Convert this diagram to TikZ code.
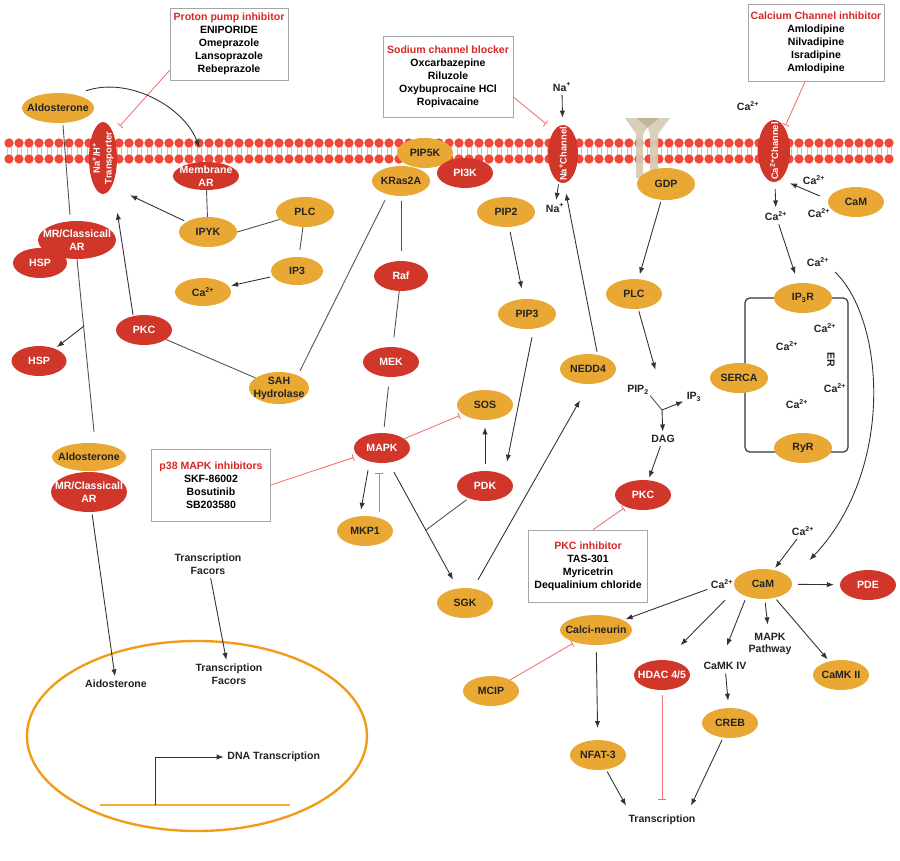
\documentclass[tikz,border=0pt]{standalone}
\usepackage{fontspec}
\setmainfont{Liberation Sans}
\usetikzlibrary{arrows.meta, shapes.geometric}
\pgfdeclarelayer{bg}
\pgfsetlayers{bg,main}

\definecolor{orc}{RGB}{233,168,52}
\definecolor{rdc}{RGB}{208,54,42}
\definecolor{hdc}{RGB}{214,40,38}
\definecolor{mbc}{RGB}{242,72,58}
\definecolor{nuc}{RGB}{242,155,22}
\definecolor{dnac}{RGB}{247,172,62}
\definecolor{inc}{RGB}{238,110,110}
\definecolor{lnc}{RGB}{50,50,50}
\definecolor{tc}{RGB}{35,35,35}
\definecolor{rcp}{RGB}{214,203,178}
\definecolor{rcpd}{RGB}{186,172,142}

\begin{document}
\begin{tikzpicture}[
        x=0.03cm, y=-0.03cm,
        lbl/.style={font=\fontsize{9}{11}\selectfont\bfseries, align=center, inner sep=1pt},
        otxt/.style={lbl, text=tc},
        rtxt/.style={lbl, text=white},
        txt/.style={lbl, text=tc},
        oval/.style={ellipse, fill=orc, minimum width=1.68cm, minimum height=0.9cm,
            inner sep=0pt, label={[otxt]center:#1}},
        rval/.style={ellipse, fill=rdc, minimum width=1.68cm, minimum height=0.9cm,
            inner sep=0pt, label={[rtxt]center:#1}},
        vval/.style={ellipse, fill=rdc, inner sep=0pt,
            label={[rtxt, rotate=90, font=\fontsize{8}{10}\selectfont\bfseries]center:#1}},
        ibox/.style={draw=gray!70, fill=white, line width=0.6pt, lbl, text=black},
        act/.style={-{Latex[length=6pt, width=4.5pt]}, draw=lnc, line width=0.75pt,
            shorten >=2pt, shorten <=2pt},
        lnk/.style={draw=lnc!85, line width=0.75pt},
        inh/.style={-{Bar[width=6pt]}, draw=inc, line width=0.7pt, shorten >=2pt}
    ]

    \fill[white] (0,0) rectangle (900,860);

    % lipid bilayer
    \foreach \i in {0,...,88} {
        \draw[gray!45, line width=0.4pt] (7+10*\i,147) -- (7+10*\i,155)
            (11+10*\i,147) -- (11+10*\i,155);
        \fill[mbc] (9+10*\i,143) circle (0.14cm);
        \fill[mbc] (9+10*\i,159) circle (0.14cm);
    }

    % receptor
    \fill[rcp, opacity=0.9] (625,118) -- (636,118) -- (647,128) -- (643,134)
        -- (643,178) -- (636,178) -- (636,134) -- cycle;
    \fill[rcp, opacity=0.9] (670,118) -- (659,118) -- (648,128) -- (650,134)
        -- (650,178) -- (658,178) -- (658,134) -- cycle;
    \fill[rcpd, opacity=0.9] (636,118) -- (659,118) -- (647.5,128) -- cycle;

    % ER
    \draw[lnc, line width=1pt, rounded corners=4pt] (745,298) rectangle (848,452);

    % nucleus
    \draw[nuc, line width=2pt] (197,736) ellipse [x radius=5.1cm, y radius=2.85cm];
    \draw[dnac, line width=1.2pt] (100,805) -- (290,805);
    \coordinate (prom) at (155,805);

    % inhibitor boxes
    \node[ibox, minimum width=3.54cm, minimum height=2.16cm] (ppi) at (229,44)
        {{\color{hdc}Proton pump inhibitor}\\ENIPORIDE\\Omeprazole\\Lansoprazole\\Rebeprazole};
    \node[ibox, minimum width=3.9cm, minimum height=2.43cm] (scb) at (448,77)
        {{\color{hdc}Sodium channel blocker}\\Oxcarbazepine\\Riluzole\\Oxybuprocaine HCl\\Ropivacaine};
    \node[ibox, minimum width=4.08cm, minimum height=2.31cm] (cci) at (816,43)
        {{\color{hdc}Calcium Channel inhibitor}\\Amlodipine\\Nilvadipine\\Isradipine\\Amlodipine};
    \node[ibox, minimum width=3.57cm, minimum height=2.16cm] (p38) at (211,485)
        {{\color{hdc}p38 MAPK inhibitors}\\SKF-86002\\Bosutinib\\SB203580};
    \node[ibox, minimum width=3.57cm, minimum height=2.16cm] (pkci) at (588,566)
        {{\color{hdc}PKC inhibitor}\\TAS-301\\Myricetrin\\Dequalinium chloride};

    % left column
    \node[oval=Aldosterone, minimum width=2.16cm] (ald1) at (58,108) {};
    \node[vval={Na\textsuperscript{+}/H\textsuperscript{+}\\Transporter},
          minimum width=0.84cm, minimum height=2.16cm] (tr) at (103,158) {};
    \node[rval={Membrane\\AR}, minimum width=1.98cm, minimum height=0.84cm] (mar) at (206,176) {};
    \node[oval=IPYK, minimum width=1.74cm] (ipyk) at (208,232) {};
    \node[oval=PLC, minimum width=1.74cm] (plc1) at (305,212) {};
    \node[oval=IP3, minimum width=1.56cm, minimum height=0.84cm] (ip3a) at (297,271) {};
    \node[oval={Ca\textsuperscript{2+}}, minimum height=0.84cm] (ca1) at (203,292) {};
    \node[rval={MR/Classicall\\AR}, minimum width=2.34cm, minimum height=1.14cm] (mr1) at (77,240) {};
    \node[rval=HSP, minimum width=1.62cm] (hsp1) at (40,263) {};
    \node[rval=HSP, minimum width=1.65cm] (hsp2) at (39,361) {};
    \node[rval=PKC] (pkc1) at (144,330) {};
    \node[oval={SAH\\Hydrolase}, minimum width=1.8cm, minimum height=0.96cm] (sah) at (279,388) {};
    \node[oval=Aldosterone, minimum width=2.22cm, minimum height=0.84cm] (ald2) at (89,457) {};
    \node[rval={MR/Classicall\\AR}, minimum width=2.28cm, minimum height=1.2cm] (mr2) at (89,492) {};
    \node[txt] (tf1) at (208,564) {Transcription\\Facors};
    \node[txt] (tf2) at (229,674) {Transcription\\Facors};
    \node[txt] (aid) at (116,684) {Aidosterone};
    \node[txt, anchor=west] (dnat) at (226,757) {DNA Transcription};

    % middle column
    \node[oval=PIP5K] (pip5k) at (425,153) {};
    \node[oval=KRas2A, minimum width=1.74cm] (kras) at (401,181) {};
    \node[rval=PI3K] (pi3k) at (465,173) {};
    \node[rval=Raf, minimum width=1.62cm] (raf) at (401,276) {};
    \node[rval=MEK] (mek) at (391,362) {};
    \node[rval=MAPK] (mapk) at (382,448) {};
    \node[oval=MKP1] (mkp1) at (365,531) {};
    \node[oval=PIP2, minimum width=1.74cm] (pip2) at (506,212) {};
    \node[oval=PIP3, minimum width=1.74cm] (pip3) at (527,314) {};
    \node[oval=SOS] (sos) at (485,405) {};
    \node[rval=PDK] (pdk) at (485,486) {};
    \node[oval=SGK] (sgk) at (465,603) {};
    \node[oval=NEDD4] (nedd) at (588,369) {};
    \node[vval={Na\textsuperscript{+}Channel}, minimum width=0.9cm, minimum height=1.74cm] (nach) at (563,154) {};
    \node[txt] (nat) at (562,87) {Na\textsuperscript{+}};
    \node[txt] (nab) at (555,208) {Na\textsuperscript{+}};
    \node[oval=MCIP] (mcip) at (491,691) {};
    \node[oval=Calci-neurin, minimum width=2.16cm] (caln) at (596,630) {};
    \node[oval=NFAT-3] (nfat) at (598,755) {};

    % right column
    \node[oval=GDP, minimum width=1.74cm, minimum height=0.96cm] (gdp) at (666,184) {};
    \node[oval=PLC] (plc2) at (634,294) {};
    \node[txt] (pip2t) at (638,390) {PIP\textsubscript{2}};
    \node[txt] (ip3t) at (694,397) {IP\textsubscript{3}};
    \coordinate (jn) at (662,410);
    \node[txt] (dag) at (663,439) {DAG};
    \node[rval=PKC] (pkc2) at (643,495) {};
    \node[vval={Ca\textsuperscript{2+}Channel}, minimum width=0.96cm, minimum height=1.86cm] (cach) at (774,151) {};
    \node[txt] (cat1) at (748,106) {Ca\textsuperscript{2+}};
    \node[txt] (cab) at (776,216) {Ca\textsuperscript{2+}};
    \node[txt] (cau) at (814,180) {Ca\textsuperscript{2+}};
    \node[txt] (cal) at (819,213) {Ca\textsuperscript{2+}};
    \node[oval=CaM] (cam1) at (856,202) {};
    \node[txt] (cac) at (818,262) {Ca\textsuperscript{2+}};
    \node[oval={IP\textsubscript{3}R}, minimum width=1.74cm] (ip3r) at (803,298) {};
    \node[oval=SERCA, minimum width=1.74cm] (serca) at (739,378) {};
    \node[oval=RyR, minimum width=1.74cm] (ryr) at (803,448) {};
    \node[txt] (cer1) at (787,346) {Ca\textsuperscript{2+}};
    \node[txt] (cer2) at (825,328) {Ca\textsuperscript{2+}};
    \node[txt] (cer3) at (835,388) {Ca\textsuperscript{2+}};
    \node[txt] (cer4) at (797,404) {Ca\textsuperscript{2+}};
    \node[txt, rotate=-90] (er) at (831,360) {ER};
    \node[txt] (cad) at (803,531) {Ca\textsuperscript{2+}};
    \node[oval=CaM, minimum width=1.74cm] (cam2) at (763,584) {};
    \node[txt] (cae) at (722,584) {Ca\textsuperscript{2+}};
    \node[rval=PDE] (pde) at (868,585) {};
    \node[rval={HDAC 4/5}] (hdac) at (662,675) {};
    \node[txt] (camk4) at (725,666) {CaMK IV};
    \node[txt] (mapkp) at (770,644) {MAPK\\Pathway};
    \node[oval={CaMK II}] (camk2) at (841,675) {};
    \node[oval=CREB] (creb) at (730,723) {};
    \node[txt] (trans) at (662,820) {Transcription};

    % transporter flux
    \begin{pgfonlayer}{bg}
    \draw[act, shorten <=0pt] ([shift={(-6,-6)}]tr.north) -- ([shift={(-4,14)}]tr.south);
    \draw[act, shorten <=0pt] ([shift={(7,12)}]tr.south) -- ([shift={(9,-8)}]tr.north);
    \end{pgfonlayer}

    % left connectors
    \draw[inh, shorten >=0pt] ([shift={(0,-10)}]ppi.south west) -- ([shift={(17,4)}]tr.north);
    \draw[act, shorten <=0pt] ([shift={(28,-2)}]ald1.north) .. controls (130,76) and (185,108)
        .. ([shift={(-6,-12)}]mar.north);
    \draw[lnk] ([shift={(5,2)}]ald1.south) -- ([shift={(-7,-6)}]mr1.north);
    \draw[lnk] (mr1.south) -- ([shift={(5,-11)}]ald2.north);
    \coordinate (hspb) at (84,326);
    \draw[act, shorten <=0pt] (hspb) -- (hsp2);
    \draw[lnk] (mar) -- (ipyk);
    \draw[act] (ipyk) -- ([shift={(25,0)}]tr.south);
    \draw[lnk] (ipyk.east) -- (plc1);
    \draw[lnk, shorten >=6pt] (plc1) -- (ip3a);
    \draw[act] (ip3a) -- (ca1);
    \draw[act, shorten <=0pt] ([shift={(-11,0)}]pkc1.north) -- ([shift={(14,16)}]tr.south);
    \draw[lnk] (pkc1) -- (sah);
    \draw[lnk] ([shift={(21,-1)}]sah.north) -- ([shift={(-16,4)}]kras.south);
    \draw[act] (mr2) -- (aid);
    \draw[act] (tf1) -- (tf2);
    \draw[act, shorten <=0pt] (prom) |- (dnat.west);
    \draw[inh, shorten >=4pt] (p38.east) -- (mapk);

    % middle connectors
    \draw[lnk, shorten <=4pt, shorten >=8pt] (kras) -- (raf);
    \draw[lnk, shorten >=8pt] (raf) -- (mek);
    \draw[lnk, shorten <=8pt, shorten >=5pt] (mek) -- (mapk);
    \draw[inh, shorten >=3pt] (mapk) -- (sos);
    \draw[act, shorten <=6pt, shorten >=6pt] (pdk) -- (sos);
    \draw[act, shorten <=4pt, shorten >=9pt] (pip2) -- (pip3);
    \draw[act, shorten <=0pt, shorten >=0pt] ([shift={(5,8)}]pip3.south) -- ([shift={(22,-9)}]pdk.north);
    \draw[act, shorten <=0pt, shorten >=0pt] ([shift={(-14,7)}]mapk.south) -- ([shift={(-4,-6)}]mkp1.north);
    \draw[inh, shorten >=0pt] ([shift={(14,-4)}]mkp1.north) -- ([shift={(-3,10)}]mapk.south);
    \draw[act, shorten <=0pt, shorten >=0pt] ([shift={(12,9)}]mapk.south) -- ([shift={(-12,-8)}]sgk.north);
    \coordinate (pdkj) at (426,530);
    \draw[lnk, shorten <=2pt] (pdk) -- (pdkj);
    \draw[act, shorten <=0pt, shorten >=0pt] ([shift={(13,-8)}]sgk.north) -- ([shift={(-8,16)}]nedd.south);
    \draw[act, shorten <=0pt, shorten >=0pt] ([shift={(9,-2)}]nedd.north) -- ([shift={(3,10)}]nach.south);
    \draw[act, shorten >=6pt] (nat) -- (nach);
    \draw[act] (nach) -- (nab);
    \draw[inh, shorten >=0pt] ([shift={(0,20)}]scb.east) -- ([shift={(-17,-1)}]nach.north);
    \draw[inh] (mcip) -- (caln);
    \draw[act, shorten <=6pt, shorten >=10pt] (caln) -- (nfat);
    \draw[act, shorten >=0pt] (nfat) -- ([shift={(-36,-8)}]trans.north);

    % right connectors
    \draw[act, shorten >=4pt] (gdp) -- (plc2);
    \draw[act] (plc2) -- ([shift={(-6,-38)}]jn);
    \draw[lnk] (pip2t.south east) -- (jn);
    \draw[act, shorten <=0pt] (jn) -- (ip3t);
    \draw[act, shorten <=0pt] (jn) -- (dag);
    \draw[act] (dag) -- (pkc2);
    \draw[inh] ([shift={(5,0)}]pkci.north) -- (pkc2);
    \draw[inh] ([shift={(-11,0)}]cci.south) -- (cach);
    \draw[act, shorten <=6pt] (cach) -- (cab);
    \draw[act, shorten <=0pt, shorten >=0pt] ([shift={(-8,-6)}]cam1.west) -- ([shift={(16,1)}]cach.south);
    \draw[act, shorten >=8pt] (cab) -- (ip3r);
    \draw[act, shorten <=0pt] ([shift={(17,10)}]cac.center) .. controls (885,320) and (895,470)
        .. ([shift={(45,-7)}]cam2.north);
    \draw[act] (cad) -- (cam2);
    \draw[act] (cae) -- (caln);
    \draw[act, shorten <=5pt, shorten >=5pt] (cam2) -- (pde);
    \draw[act, shorten <=0pt] ([shift={(-38,1)}]cam2.south) -- ([shift={(17,-13)}]hdac.north);
    \draw[act, shorten <=0pt] ([shift={(-18,1)}]cam2.south) -- ([shift={(1,-13)}]camk4.north);
    \draw[act, shorten <=3pt, shorten >=6pt] (cam2) -- (mapkp);
    \draw[act] (cam2) -- (camk2);
    \draw[act, shorten >=6pt] (camk4) -- (creb);
    \draw[act, shorten >=0pt] (creb) -- ([shift={(29,-8)}]trans.north);
    \draw[inh, shorten >=0pt] ([shift={(0,5)}]hdac.south) -- ([shift={(0,-14)}]trans.north);

\end{tikzpicture}
\end{document}
